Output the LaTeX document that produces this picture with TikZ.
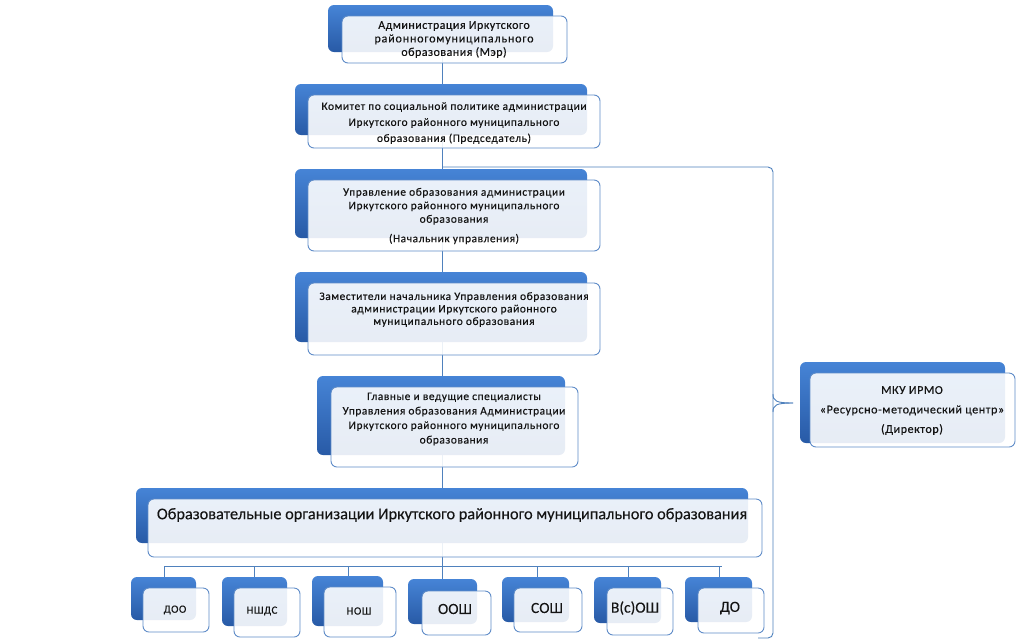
\documentclass[tikz,border=0pt]{standalone}
\usepackage{fontspec}
\setmainfont{Carlito}
\newfontfamily\widefont{Carlito}[LetterSpace=5.0,FakeBold=0.3]
\newfontfamily\plainfont{Carlito}[FakeBold=0.2]
\usetikzlibrary{fit}
\definecolor{bluetop}{RGB}{70,132,214}
\definecolor{bluebot}{RGB}{40,90,166}
\definecolor{bord}{RGB}{95,140,200}
\definecolor{conncol}{RGB}{79,129,189}
\definecolor{txtcol}{RGB}{20,20,20}
\tikzset{
  backbox/.style={rectangle, rounded corners=6pt, top color=bluetop, bottom color=bluebot, draw=none, inner sep=0pt},
  frontbox/.style={rectangle, rounded corners=6pt, draw=bord, line width=0.9pt, fill=white, fill opacity=0.89, inner sep=0pt},
  conn/.style={draw=conncol, line width=0.9pt},
  txt/.style={text=txtcol, align=center, inner sep=0pt, font=\widefont\fontsize{11.4}{13.5}\selectfont},
  bigtxt/.style={text=txtcol, align=center, inner sep=0pt, font=\plainfont\fontsize{16.3}{18}\selectfont},
  smalltxt/.style={text=txtcol, align=center, inner sep=0pt, font=\widefont\fontsize{11}{13}\selectfont},
  midtxt/.style={text=txtcol, align=center, inner sep=0pt, font=\plainfont\fontsize{15.5}{17}\selectfont},
}
\newcommand\twobox[9]{%
  \node[backbox, fit={(#2,#3) (#4,#5)}] (#1b) {};
  \node[frontbox, fit={(#6,#7) (#8,#9)}] (#1f) {};
}
\newcommand\lsp[2]{{\addfontfeature{LetterSpace=#1}#2}}
\begin{document}
\begin{tikzpicture}[x=1pt,y=-1pt]
\useasboundingbox (0,0) rectangle (1017,641);
\fill[white] (0,0) rectangle (1017,641);
% junction coordinates
\coordinate (trtop) at (442,52);
\coordinate (trbot) at (442,579);
\coordinate (j1) at (442,167);
\coordinate (brA) at (773,167);
\coordinate (brB) at (773,638);
\coordinate (brC) at (758,638);
\coordinate (tipU) at (773,394);
\coordinate (tipL) at (773,412);
\coordinate (tip) at (793,403);
\coordinate (hl) at (164,566);
\coordinate (hr) at (722,566);
% connectors (behind boxes)
\draw[conn] (trtop) -- (trbot);
\draw[conn, rounded corners=5pt] (j1) -- (brA) -- (brB) -- (brC);
\draw[conn] (tipU) .. controls (773,401) and (776,403) .. (tip);
\draw[conn] (tipL) .. controls (773,405) and (776,403) .. (tip);
\draw[conn] (hl) -- (hr);
\foreach \xx in {164,254,348,537,628,719}{
  \draw[conn] (\xx,566) -- (\xx,578);
}
% boxes
\twobox{m}{328}{5}{553}{52}{342}{16}{567}{63}
\twobox{k}{295}{84}{587}{135}{308}{95}{600}{148}
\twobox{u}{295}{169}{587}{238}{308}{180}{600}{251}
\twobox{z}{295}{272}{587}{342}{308}{283}{600}{355}
\twobox{g}{317}{376}{565}{455}{331}{387}{578}{467}
\twobox{o}{136}{488}{748}{543}{148}{499}{762}{557}
\twobox{r}{800}{362}{1005}{443}{810}{373}{1015}{447}
\twobox{sa}{131}{577}{196}{620}{143}{588}{209}{632}
\twobox{sb}{222}{577}{287}{626}{234}{588}{300}{637}
\twobox{sc}{312}{576}{383}{626}{324}{587}{396}{637}
\twobox{sd}{408}{579}{477}{624}{422}{591}{491}{635}
\twobox{se}{502}{577}{569}{622}{514}{588}{582}{632}
\twobox{sf}{594}{577}{661}{623}{607}{588}{673}{635}
\twobox{sg}{685}{577}{752}{622}{698}{588}{764}{633}
% texts
\node[txt, font=\widefont\fontsize{12}{13.5}\selectfont] (mt) at (454,39.5) {\lsp{4}{Администрация Иркутского}\\\lsp{7}{районногомуниципального}\\\lsp{4}{образования (Мэр)}};
\node[txt, font=\widefont\fontsize{11.4}{16}\selectfont] (kt) at (454,123) {Комитет по социальной политике администрации\\Иркутского районного муниципального\\образования (Председатель)};
\node[txt] (ut) at (454,216) {Управление образования администрации\\Иркутского районного муниципального\\образования\\[6pt](Начальник управления)};
\node[txt, font=\widefont\fontsize{11.4}{12.5}\selectfont] (zt) at (454,309.5) {Заместители начальника Управления образования\\администрации Иркутского районного\\муниципального образования};
\node[txt, font=\widefont\fontsize{11.4}{14.5}\selectfont] (gt) at (454,419) {Главные и ведущие специалисты\\Управления образования Администрации\\Иркутского районного муниципального\\образования};
\node[bigtxt] (ot) at (452,515) {Образовательные организации Иркутского районного муниципального образования};
\node[txt, font=\widefont\fontsize{12}{19.5}\selectfont] (rt) at (912,410.5) {МКУ ИРМО\\«Ресурсно-методический центр»\\(Директор)};
\node[smalltxt] (sat) at (175,610) {ДОО};
\node[smalltxt] (sbt) at (262,611) {НШДС};
\node[smalltxt] (sct) at (359,611) {НОШ};
\node[midtxt] (sdt) at (455,609) {ООШ};
\node[midtxt] (set) at (547,608) {СОШ};
\node[midtxt] (sft) at (635,608) {В(с)ОШ};
\node[midtxt] (sgt) at (730,608) {ДО};
\end{tikzpicture}
\end{document}
